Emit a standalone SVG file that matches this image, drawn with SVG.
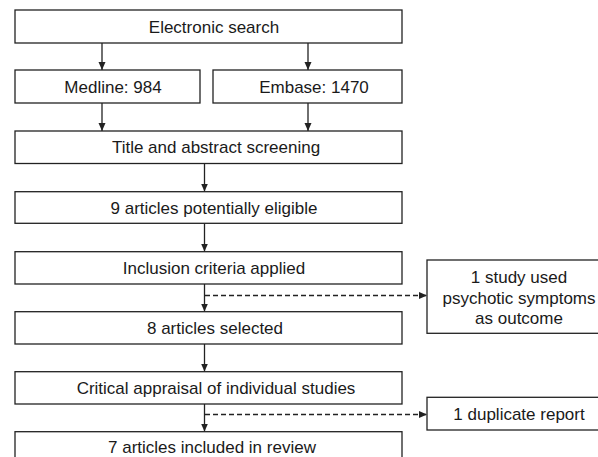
<svg xmlns="http://www.w3.org/2000/svg" width="598" height="457" viewBox="0 0 598 457">
<style>
.box{fill:#fff;stroke:#222;stroke-width:1.3}
.t{font-family:"Liberation Sans",Arial,sans-serif;font-size:17px;fill:#1a1a1a;text-anchor:middle}
.c{stroke:#222;stroke-width:1.3;fill:none}
.d{stroke:#222;stroke-width:1.3;fill:none;stroke-dasharray:5 3}
</style>
<defs>
<marker id="ah" markerWidth="8" markerHeight="8" refX="8" refY="3.5" orient="auto" markerUnits="userSpaceOnUse" viewBox="0 0 8 7">
<path d="M0,0 L8,3.5 L0,7 Z" fill="#222"/>
</marker>
</defs>
<rect width="598" height="457" fill="#fff"/>
<g id="connectors">
<line class="c" x1="102" y1="43" x2="102" y2="70" marker-end="url(#ah)"/>
<line class="c" x1="308" y1="43" x2="308" y2="70" marker-end="url(#ah)"/>
<line class="c" x1="102" y1="103" x2="102" y2="131" marker-end="url(#ah)"/>
<line class="c" x1="308" y1="103" x2="308" y2="131" marker-end="url(#ah)"/>
<line class="c" x1="204.5" y1="163.5" x2="204.5" y2="191.5" marker-end="url(#ah)"/>
<line class="c" x1="204.5" y1="223.5" x2="204.5" y2="251.5" marker-end="url(#ah)"/>
<line class="c" x1="204.5" y1="284" x2="204.5" y2="311.5" marker-end="url(#ah)"/>
<line class="c" x1="204.5" y1="344" x2="204.5" y2="371.5" marker-end="url(#ah)"/>
<line class="c" x1="204.5" y1="404" x2="204.5" y2="431.5" marker-end="url(#ah)"/>
<line class="d" x1="205" y1="295.5" x2="427" y2="295.5" marker-end="url(#ah)"/>
<line class="d" x1="205" y1="414.5" x2="427" y2="414.5" marker-end="url(#ah)"/>
</g>
<g id="electronic"><rect class="box" x="15" y="10" width="387" height="33"/><text class="t" x="214" y="32.5">Electronic search</text></g>
<g id="medline"><rect class="box" x="15" y="70" width="185" height="33"/><text class="t" x="113" y="92.5">Medline: 984</text></g>
<g id="embase"><rect class="box" x="213" y="70" width="189" height="33"/><text class="t" x="314" y="92.5">Embase: 1470</text></g>
<g id="screening"><rect class="box" x="15" y="131" width="387" height="32.5"/><text class="t" x="216" y="153.3">Title and abstract screening</text></g>
<g id="eligible"><rect class="box" x="15" y="191.7" width="387" height="31.6"/><text class="t" x="214" y="213.5">9 articles potentially eligible</text></g>
<g id="inclusion"><rect class="box" x="15" y="251.7" width="387" height="32.3"/><text class="t" x="214" y="274">Inclusion criteria applied</text></g>
<g id="psychotic"><rect class="box" x="427" y="260" width="172" height="73.3"/><text class="t" x="519" y="283">1 study used</text><text class="t" x="519" y="304">psychotic symptoms</text><text class="t" x="519" y="324">as outcome</text></g>
<g id="selected"><rect class="box" x="15" y="311.7" width="387" height="32.3"/><text class="t" x="215" y="334">8 articles selected</text></g>
<g id="appraisal"><rect class="box" x="15" y="371.7" width="387" height="32.3"/><text class="t" x="216" y="394">Critical appraisal of individual studies</text></g>
<g id="duplicate"><rect class="box" x="427" y="397.3" width="172" height="32.7"/><text class="t" x="519" y="420">1 duplicate report</text></g>
<g id="included"><rect class="box" x="15" y="431.7" width="387" height="32.3"/><text class="t" x="212" y="452.5">7 articles included in review</text></g>
</svg>
